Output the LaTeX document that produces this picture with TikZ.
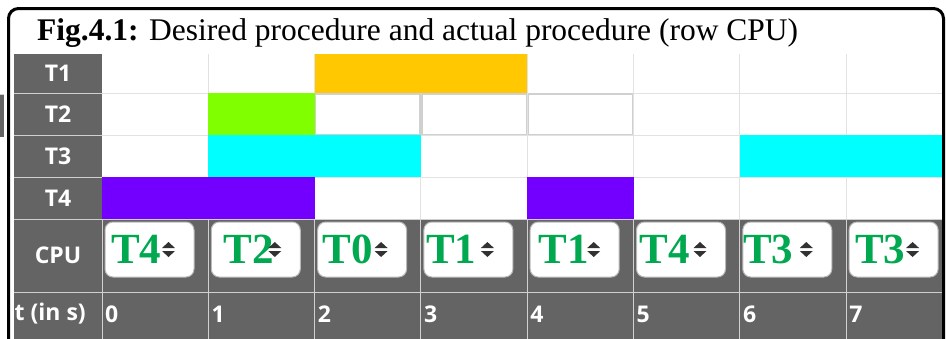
\documentclass[tikz,border=0pt]{standalone}
\usepackage{fontspec}
\setmainfont{Liberation Serif}
\newfontfamily\lblfont{Open Sans}
\definecolor{hdrgray}{RGB}{100,100,100}
\definecolor{gridlight}{RGB}{226,226,226}
\definecolor{griddark}{RGB}{208,208,208}
\definecolor{tone}{RGB}{255,200,0}
\definecolor{ttwo}{RGB}{128,255,0}
\definecolor{tthree}{RGB}{0,255,255}
\definecolor{tfour}{RGB}{115,0,255}
\definecolor{cpugreen}{RGB}{0,168,80}
\definecolor{spinclr}{RGB}{50,50,50}
\usetikzlibrary{positioning}
\tikzset{
  rowlbl/.style={text=white,font=\lblfont\bfseries\fontsize{23}{26}\selectfont,inner sep=0pt},
  cpusel/.style={draw=gray!55,fill=white,rounded corners=8pt,line width=1pt,
    minimum width=89pt,minimum height=55pt,inner sep=0pt},
  cpuval/.style={text=cpugreen,font=\bfseries\fontsize{43}{46}\selectfont,
    inner sep=0pt,anchor=base west},
  bar/.style={fill=#1,draw=none},
}

\begin{document}
\begin{tikzpicture}[x=1pt,y=-1pt,
  gridw/.style={draw=gridlight,line width=1pt},
  gridg/.style={draw=griddark,line width=1pt},
  cellbox/.style={draw=gridlight!92!black,line width=1.2pt},
]
  \useasboundingbox (0,0) rectangle (946,338);
  \begin{scope}
  \clip (0,0) rectangle (946,338);
  % stray piece at the left edge
  \fill[hdrgray] (0,95) rectangle (4,137);
  \draw[gridg] (0,94) -- (4,94);

  % gray parts of the table
  \fill[hdrgray] (14,54) rectangle (102,345);
  \fill[hdrgray] (102,219) rectangle (944,345);

  % grid of the white part
  \foreach \i in {1,...,7}
    \draw[gridw] ({102+106.3*\i},54) -- ({102+106.3*\i},219);
  \foreach \y in {93,135,177}
    \draw[gridw] (102,\y) -- (944,\y);
  \foreach \i in {2,3,4}
    \draw[cellbox] ({102+106.3*\i+1},94) rectangle ({102+106.3*(\i+1)-1},134.5);

  % task bars
  \fill[bar=tone] (314.6,54) rectangle (527.2,93);
  \fill[bar=ttwo] (208.3,93) rectangle (314.6,135);
  \fill[bar=tthree] (208.3,135) rectangle (420.9,177);
  \fill[bar=tthree] (739.8,135) rectangle (944,177);
  \fill[bar=tfour] (102,177) rectangle (314.6,219);
  \fill[bar=tfour] (527.2,177) rectangle (633.5,219);

  % grid of the gray rows
  \foreach \y in {93,135,177}
    \draw[gridg] (14,\y) -- (102,\y);
  \foreach \y in {219,292}
    \draw[gridg] (14,\y) -- (944,\y);
  \foreach \i in {0,...,7}
    \draw[gridg] ({102+106.3*\i},219) -- ({102+106.3*\i},345);

  % row labels
  \node[rowlbl] (lblT1) at (58,73.5) {T1};
  \node[rowlbl] (lblT2) at (58,114) {T2};
  \node[rowlbl] (lblT3) at (58,156) {T3};
  \node[rowlbl] (lblT4) at (58,198) {T4};
  \node[rowlbl] (lblCPU) at (58,255.5) {CPU};
  \node[rowlbl,anchor=west] (lblT) at (14.5,314) {t (in s)};

  % CPU selectors and time steps
  \foreach \v/\dx [count=\i from 0] in {T4/9,T2/15,T0/8,T1/5,T1/11,T4/6,T3/3,T3/9} {
    \pgfmathsetmacro\cx{102+106.3*\i}
    \node[cpusel] (sel\i) at (\cx+47.5,249.5) {};
    \node[cpuval] (val\i) at (\cx+\dx,263) {\v};
    \fill[spinclr] (\cx+60,248) -- (\cx+73,248) -- (\cx+66.5,242) -- cycle;
    \fill[spinclr] (\cx+60,251) -- (\cx+73,251) -- (\cx+66.5,257) -- cycle;
    \node[rowlbl,anchor=west] (step\i) at (\cx+3,314) {\i};
  }

  % title
  \node[anchor=base west,inner sep=0pt,font=\fontsize{31.5}{36}\selectfont] (title)
    at (37,40) {\textbf{Fig.4.1:} Desired procedure and actual procedure (row CPU)};

  % frame
  \draw[line width=3pt,rounded corners=10pt]
    (8.5,360) -- (8.5,8.5) -- (943.5,8.5) -- (943.5,360);
  \end{scope}
\end{tikzpicture}
\end{document}
